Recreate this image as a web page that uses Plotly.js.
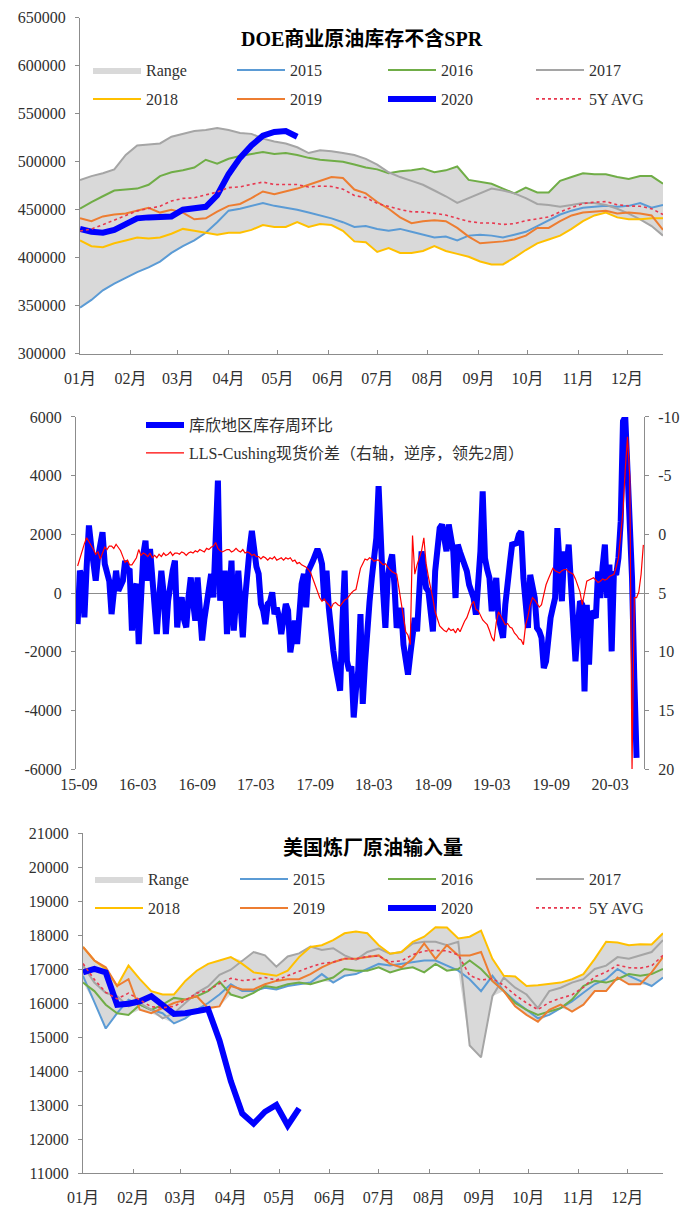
<!DOCTYPE html>
<html>
<head>
<meta charset="utf-8">
<script src="https://cdn.plot.ly/plotly-3.0.1.min.js"></script>
<style>
  html, body { margin: 0; padding: 0; background: #ffffff; }
  #chart { width: 683px; height: 1207px; }
</style>
</head>
<body>
<div id="chart"></div>
<script>
// ===== DOE commercial crude stocks excluding SPR (thousand barrels), weekly from the first week of January =====
const stock2015 = [348000,356000,366000,373000,379000,385000,390000,396000,405000,412000,
  418000,426000,437000,449000,451000,454000,457000,454000,452000,450000,
  447000,444000,441000,437000,432000,433000,430000,428000,430000,427000,
  424000,421000,422000,418000,423000,424000,423000,421000,424000,427000,
  433000,439000,445000,449000,452000,453000,454000,453000,454000,457000,
  452000,455000];
const stock2016 = [451000,458000,464000,470000,471000,472000,476000,485000,489000,491000,
  494000,502000,498000,503000,506000,508000,510000,508000,509000,507000,
  504000,502000,501000,500000,497000,494000,492000,488000,490000,491000,
  493000,489000,491000,495000,481000,479000,477000,472000,467000,473000,
  468000,468000,480000,484000,488000,487000,487000,484000,482000,485000,
  485000,477000];
const stock2017 = [481000,485000,488000,492000,507000,517000,518000,519000,526000,529000,
  532000,533000,535000,533000,530000,529000,524000,521000,519000,515000,
  509000,512000,511000,509000,507000,503000,497000,489000,484000,480000,
  476000,470000,464000,457000,462000,467000,472000,470000,467000,462000,
  456000,455000,453000,455000,457000,457000,455000,451000,446000,440000,
  433000,423000];
const stock2018 = [418000,412000,411000,415000,418000,421000,420000,421000,425000,430000,
  428000,426000,424000,426000,426000,429000,434000,432000,432000,437000,
  432000,435000,434000,428000,417000,416000,406000,410000,405000,405000,
  407000,412000,407000,404000,401000,396000,393000,393000,400000,408000,
  415000,419000,423000,430000,438000,444000,447000,442000,440000,440000,
  441000,441000];
const stock2019 = [441000,438000,443000,445000,446000,449000,452000,447000,450000,447000,
  440000,441000,448000,454000,456000,462000,469000,466000,469000,472000,
  476000,480000,484000,483000,471000,467000,458000,451000,442000,436000,
  438000,439000,438000,431000,422000,415000,416000,417000,419000,423000,
  431000,431000,438000,444000,447000,448000,449000,446000,447000,446000,
  444000,429000];
const stock2020 = [430000,427000,426000,429000,435000,441000,442000,442000,443000,450000,
  452000,453000,465000,487000,504000,517000,527000,531000,532000,526000];

// ===== Cushing weekly stock change (thousand barrels) and LLS-Cushing spot spread (USD/bbl, led 2 weeks) =====
const cushingChange = [
  -1060, 760, 530, -830, 900, 2300, 1600, 1000, 420, 1200,
  1600, 2070, 990, 600, 400, -720, 200, 760, 80, 300,
  420, 1100, 800, 760, -1280, 100, 310, -1740, 200, 1300,
  1780, 420, 1500, 600, -260, -1400, -200, 760, 0, -1400,
  -260, 400, 760, 1100, -1170, -400, -150, -900, -1170, -150,
  530, -300, -940, 530, -600, -1620, -900, -260, 300, 650,
  -150, 2200, 3830, -260, 400, 760, -1400, 300, 1100, -1280,
  200, 760, -370, -1510, -200, 870, 1500, 2120, 1330, 900,
  650, -370, -600, -1060, -370, -300, 20, -720, -500, -830,
  -1400, -800, -370, -600, -2020, -1500, -940, -1740, -500, 310,
  650, -490, 760, 900, 1100, 1300, 1500, 1300, 990, -260,
  760, -500, -1510, -1970, -2500, -2990, -3330, -1000, 760, -2310,
  -2650, -2500, -4240, -3300, -2650, -720, -3780, -2400, -1080, -300,
  510, 1100, 1870, 3640, 1000, 60, -1190, 510, 1000, 1310,
  280, -1190, -800, -510, -1760, -2300, -2780, -2100, -1500, -850,
  -1310, 500, 1420, 850, 170, 60, -700, -1310, 740, 1500,
  2210, 2330, 1800, 1420, 2330, 1900, 1420, -170, 1650, 1400,
  1190, 900, 740, 280, 100, -170, -740, 400, 1420, 3460,
  1190, 800, 510, -620, 0, 510, -850, -1200, -1530, -400,
  510, 1000, 1650, 1650, 1700, 1990, 2100, 500, -620, -1190,
  620, 200, -170, -1190, -1300, -1530, -2560, -2330, -1500, -850,
  -500, -170, 2210, 500, -280, 1420, 850, 1650, 500, -620,
  -2330, -1200, -280, -400, -3350, -400, -2440, -620, -700, -850,
  740, -170, 900, 1650, -170, 970, -1990, 740, 620, 1200,
  2440, 5850, 6000, 4500, 2500, 510, -2900, -5620];
const llsCushingSpread = [
  2.7, 2.0, 1.5, 0.8, 0.3, 0.6, 0.9, 1.3, 1.7, 1.5,
  2.1, 1.6, 1.1, 1.3, 1.0, 1.0, 1.2, 0.85, 1.1, 1.4,
  1.9, 2.4, 2.2, 2.6, 2.6, 2.3, 2.0, 1.3, 1.8, 1.6,
  1.7, 1.9, 1.6, 2.0, 1.8, 2.0, 1.7, 1.9, 1.6, 1.8,
  1.7, 1.5, 1.8, 1.6, 1.6, 1.7, 1.5, 1.6, 1.8, 1.6,
  1.5, 1.6, 1.4, 1.5, 1.3, 1.4, 1.5, 1.2, 1.3, 1.1,
  1.0, 0.7, 1.2, 1.4, 1.5, 1.4, 1.3, 1.3, 1.5, 1.4,
  1.2, 1.4, 1.5, 1.3, 1.6, 1.5, 1.6, 1.8, 1.7, 1.9,
  1.9, 2.1, 1.9, 2.0, 2.2, 2.0, 2.1, 1.9, 2.2, 2.1,
  2.0, 2.2, 2.0, 2.1, 2.0, 2.3, 2.2, 2.5, 2.4, 2.6,
  2.7, 2.8, 3.0, 3.3, 3.8, 4.4, 5.0, 5.4, 5.7, 5.5,
  5.8, 6.0, 6.3, 5.9, 5.8, 6.0, 6.1, 5.8, 5.6, 5.5,
  5.2, 5.0, 4.8, 4.7, 3.8, 2.9, 2.5, 2.1, 2.2, 2.0,
  2.1, 2.3, 2.2, 2.2, 2.4, 2.6, 2.5, 2.8, 3.0, 3.2,
  3.3, 3.4, 4.6, 5.9, 7.0, 8.3, 8.6, 9.4, 0.1, 3.4,
  2.6, 2.0, 1.4, 0.3, 2.5, 3.6, 4.5, 5.5, 6.6, 7.2,
  7.8, 8.0, 8.2, 8.3, 8.0, 8.2, 8.1, 8.4, 8.0, 8.3,
  7.8, 7.4, 7.1, 6.5, 6.0, 5.7, 6.4, 6.5, 6.9, 7.3,
  7.5, 7.7, 8.2, 8.8, 9.1, 7.5, 6.6, 7.0, 7.3, 7.7,
  7.6, 7.9, 8.0, 8.4, 8.6, 8.9, 9.0, 9.4, 7.7, 7.0,
  6.0, 5.4, 5.6, 5.9, 6.2, 6.0, 5.0, 4.3, 3.8, 3.3,
  2.9, 3.1, 3.2, 3.3, 3.1, 3.0, 3.0, 3.2, 3.3, 3.4,
  3.8, 4.4, 4.9, 6.0, 5.0, 4.0, 3.9, 3.8, 3.7, 3.9,
  4.1, 4.0, 3.8, 3.9, 3.8, 3.6, 3.5, 3.4, 2.8, 2.0,
  0, -2, -5.5, -8.3, -4.9, 20, 5.4, 5.4, 4.9, 3.4, 0.9];

// ===== US refinery crude inputs (thousand b/d), weekly from the first week of January =====
const runs2015 = [16800,16000,15250,15700,16100,15950,15800,15700,15400,15550,
  15800,16000,16250,16550,16350,16350,16450,16400,16500,16550,
  16600,16850,16600,16800,16850,17000,17150,17100,17150,17200,
  17250,17250,17100,16950,16700,16350,16800,16350,16050,15800,
  15550,15650,15850,16050,16300,16550,16700,17000,16800,16650,
  16500,16750];
const runs2016 = [16600,16350,15950,15700,15650,15950,15800,15950,16150,16100,
  16200,16350,16630,16250,16150,16300,16500,16450,16550,16600,
  16550,16650,16750,17000,16950,16950,17050,16900,17000,17050,
  16900,17150,16950,17000,17250,17000,16650,16350,16000,15800,
  15650,15750,15850,16100,16500,16650,16600,16700,16850,16800,
  16850,17000];
const runs2017 = [17100,16600,16300,16200,15900,16000,15800,15550,15700,16000,
  16300,16490,16830,16980,17250,17500,17400,17070,17370,17460,
  17660,17560,17610,17400,17270,17500,17600,17450,17500,17750,
  17800,17800,17700,17800,14750,14400,16200,16750,16450,16250,
  15850,16350,16450,16600,16700,17000,17100,17350,17300,17400,
  17500,17850];
const runs2018 = [17650,17250,17000,16500,17100,16700,16350,16250,16250,16650,
  16950,17150,17250,17350,17150,16900,16850,16800,16950,17350,
  17650,17700,17850,18050,18100,18050,17700,17450,17500,17800,
  17950,18230,18220,17900,17950,18130,17300,16800,16780,16500,
  16520,16550,16600,16700,16850,17300,17800,17780,17700,17730,
  17720,18050];
const runs2019 = [17650,17250,17050,16500,16700,15800,15700,15850,16000,16100,
  16200,15850,15900,16500,16400,16400,16550,16650,16700,16700,
  16850,17050,17200,17300,17300,17350,17400,17150,17050,17300,
  17750,17300,17700,17400,17400,17500,16650,16350,15900,15650,
  15450,15800,15950,15750,15950,16350,16350,16750,16550,16550,
  16900,17350];
const runs2020 = [16900,17000,16900,15950,15980,16050,16200,15950,15680,15700,
  15760,15820,14900,13700,12750,12450,12800,13000,12400,12900];

// ===== Labels =====
const yearNames = ['2015', '2016', '2017', '2018', '2019', '2020'];
const rangeName = 'Range';
const avgName = '5Y AVG';
const stockTitle = 'DOE商业原油库存不含SPR';
const runsTitle = '美国炼厂原油输入量';
const cushingName = '库欣地区库存周环比';
const spreadName = 'LLS-Cushing现货价差（右轴，逆序，领先2周）';
const cushingTickVals = [-6000, -4000, -2000, 0, 2000, 4000, 6000];
const cushingTickText = ['-6000', '-4000', '-2000', '0', '2000', '4000', '6000'];
const spreadTickVals = [-10, -5, 0, 5, 10, 15, 20];
const spreadTickText = ['-10', '-5', '0', '5', '10', '15', '20'];

// ===== Helpers =====
const W = 683, H = 1207;
const px = v => v / W;
const py = v => 1 - v / H;
const FONT = "'Liberation Serif', 'Times New Roman', 'Noto Sans CJK SC', serif";
const TEXT = '#303030';
const AXIS = '#8c8c8c';
const COLORS = ['#5B9BD5', '#70AD47', '#A5A5A5', '#FFC000', '#ED7D31', '#0000FF'];
const AVG_COLOR = '#E8384F';
const BAND_COLOR = '#D9D9D9';

function weeklyDates(start, n) {
  const t0 = Date.parse(start + 'T00:00:00Z');
  const out = [];
  for (let i = 0; i < n; i++) out.push(new Date(t0 + i * 7 * 864e5).toISOString().slice(0, 10));
  return out;
}
const colMin = rows => rows[0].map((_, i) => Math.min(...rows.map(r => r[i])));
const colMax = rows => rows[0].map((_, i) => Math.max(...rows.map(r => r[i])));
const colMean = rows => rows[0].map((_, i) => rows.reduce((s, r) => s + r[i], 0) / rows.length);

const legendFont = { family: FONT, size: 16, color: TEXT };
function legendAt(textX, rowY, itemWidth) {
  return {
    x: px(textX - itemWidth - 10), y: py(rowY), xanchor: 'left', yanchor: 'middle',
    orientation: 'v', bgcolor: 'rgba(0,0,0,0)', borderwidth: 0,
    itemwidth: itemWidth, font: legendFont, itemclick: false, itemdoubleclick: false
  };
}

// Builds the seasonal panel traces (range band, yearly lines, five-year average)
function seasonalTraces(years, current, xa, ya, legendIds) {
  const dates = weeklyDates('2020-01-01', years[0].length);
  const lo = colMin(years), hi = colMax(years), avg = colMean(years);
  const tr = [];
  tr.push({ x: dates, y: lo, xaxis: xa, yaxis: ya, mode: 'lines', line: { width: 0, color: BAND_COLOR },
            showlegend: false, hoverinfo: 'skip' });
  tr.push({ x: dates, y: hi, xaxis: xa, yaxis: ya, mode: 'lines', line: { width: 0, color: BAND_COLOR },
            fill: 'tonexty', fillcolor: BAND_COLOR, name: rangeName, legend: legendIds[0] });
  years.forEach((ys, k) => {
    tr.push({ x: dates, y: ys, xaxis: xa, yaxis: ya, mode: 'lines', name: yearNames[k],
              line: { color: COLORS[k], width: 2 }, legend: legendIds[k + 1] });
  });
  tr.push({ x: dates.slice(0, current.length), y: current, xaxis: xa, yaxis: ya, mode: 'lines',
            name: yearNames[5], line: { color: COLORS[5], width: 6 }, legend: legendIds[6] });
  tr.push({ x: dates, y: avg, xaxis: xa, yaxis: ya, mode: 'lines', name: avgName,
            line: { color: AVG_COLOR, width: 1.6, dash: 'dot' }, legend: legendIds[7] });
  return tr;
}

const tickFont = { family: FONT, size: 16, color: TEXT };
function monthAxis(x0, x1, anchor) {
  return {
    domain: [px(x0), px(x1)], anchor: anchor, type: 'date',
    range: ['2020-01-01', '2020-12-23'], tick0: '2020-01-01', dtick: 'M1', tickformat: '%m月',
    ticks: 'inside', ticklen: 4, tickcolor: AXIS, showline: true, linecolor: AXIS, linewidth: 1,
    showgrid: false, zeroline: false, tickfont: tickFont, ticklabelstandoff: 10, fixedrange: true
  };
}
function valueAxis(y0, y1, anchor, extra) {
  return Object.assign({
    domain: [py(y1), py(y0)], anchor: anchor, ticks: 'outside', ticklen: 4, tickcolor: AXIS,
    showline: true, linecolor: AXIS, linewidth: 1, showgrid: false, zeroline: false,
    tickfont: tickFont, ticklabelstandoff: 6, fixedrange: true
  }, extra);
}

// ===== Traces =====
const ids1 = ['legend', 'legend2', 'legend3', 'legend4', 'legend5', 'legend6', 'legend7', 'legend8'];
const ids3 = ['legend11', 'legend12', 'legend13', 'legend14', 'legend15', 'legend16', 'legend17', 'legend18'];
const traces = [];
traces.push(...seasonalTraces([stock2015, stock2016, stock2017, stock2018, stock2019], stock2020, 'x', 'y', ids1));
traces.push({ x: weeklyDates('2015-08-28', cushingChange.length), y: cushingChange, xaxis: 'x2', yaxis: 'y2',
              mode: 'lines', name: cushingName, line: { color: '#0000FF', width: 6 }, legend: 'legend9' });
traces.push({ x: weeklyDates('2015-08-28', llsCushingSpread.length), y: llsCushingSpread, xaxis: 'x2', yaxis: 'y3',
              mode: 'lines', name: spreadName, line: { color: '#FF0000', width: 1.2 }, legend: 'legend10' });
traces.push(...seasonalTraces([runs2015, runs2016, runs2017, runs2018, runs2019], runs2020, 'x3', 'y4', ids3));

// ===== Layout =====
const layout = {
  width: W, height: H, margin: { l: 0, r: 0, t: 0, b: 0 },
  paper_bgcolor: '#ffffff', plot_bgcolor: 'rgba(0,0,0,0)',
  font: { family: FONT, size: 16, color: TEXT },
  showlegend: true, hovermode: false,
  xaxis: monthAxis(80, 663, 'y'),
  yaxis: valueAxis(17.7, 353.7, 'x', { range: [300000, 650000], dtick: 50000, tickformat: 'd' }),
  xaxis2: {
    domain: [px(76), px(644)], anchor: 'y2', type: 'date', range: ['2015-08-23', '2020-06-14'],
    tick0: '2015-09-01', dtick: 'M6', tickformat: '%y-%m', showline: false, ticks: '',
    showgrid: false, zeroline: false, tickfont: tickFont, ticklabelstandoff: 4, fixedrange: true
  },
  yaxis2: valueAxis(416.9, 769.1, 'x2', {
    range: [-6000, 6000], tickmode: 'array', tickvals: cushingTickVals, ticktext: cushingTickText,
    zeroline: true, zerolinecolor: AXIS, zerolinewidth: 1
  }),
  yaxis3: {
    overlaying: 'y2', side: 'right', anchor: 'x2', range: [20, -10],
    tickmode: 'array', tickvals: spreadTickVals, ticktext: spreadTickText,
    ticks: 'outside', ticklen: 4, tickcolor: AXIS, showline: true, linecolor: AXIS, linewidth: 1,
    showgrid: false, zeroline: false, tickfont: tickFont, ticklabelstandoff: 6, fixedrange: true
  },
  xaxis3: monthAxis(83, 663, 'y4'),
  yaxis4: valueAxis(833, 1173, 'x3', { range: [11000, 21000], dtick: 1000, tickformat: 'd' }),
  annotations: [
    { text: '<b>' + stockTitle + '</b>', xref: 'paper', yref: 'paper', x: px(362), y: py(38),
      xanchor: 'center', yanchor: 'middle', showarrow: false, font: { family: FONT, size: 20, color: '#000' } },
    { text: '<b>' + runsTitle + '</b>', xref: 'paper', yref: 'paper', x: px(373), y: py(848),
      xanchor: 'center', yanchor: 'middle', showarrow: false, font: { family: FONT, size: 20, color: '#000' } }
  ]
};

// Legend placement: each entry sits at its own text position
const rowTextX = [146, 290, 441, 589];
ids1.forEach((id, k) => { layout[id] = legendAt(rowTextX[k % 4], k < 4 ? 70 : 99, 48); });
layout.legend9 = legendAt(189, 425, 38);
layout.legend10 = legendAt(189, 453, 38);
const rowTextX3 = [148, 293, 441, 589];
ids3.forEach((id, k) => { layout[id] = legendAt(rowTextX3[k % 4], k < 4 ? 879 : 908, 48); });

Plotly.newPlot('chart', traces, layout, { staticPlot: true, displayModeBar: false });
</script>
</body>
</html>
